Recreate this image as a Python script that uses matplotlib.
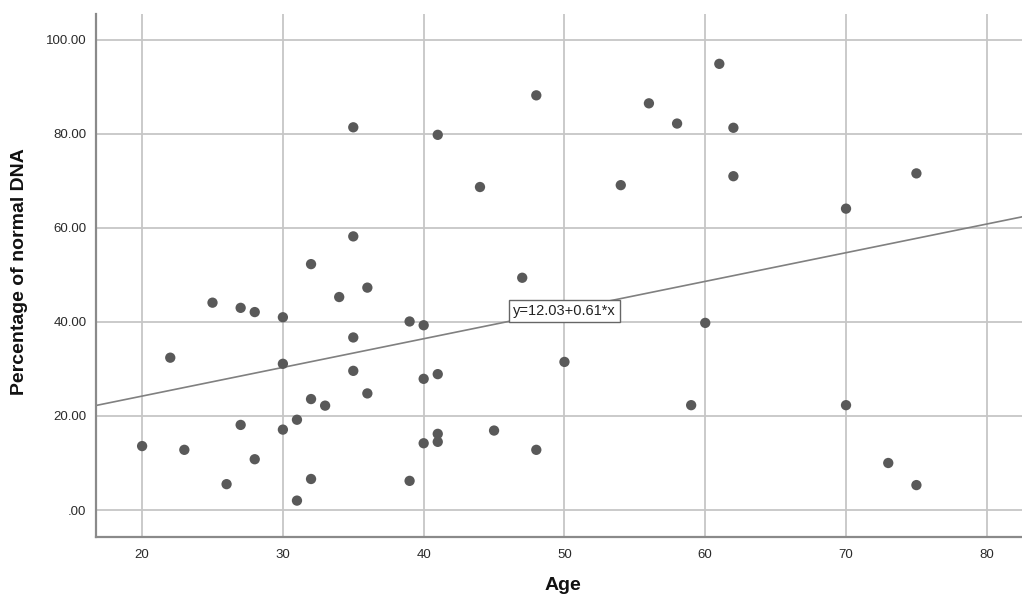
import numpy as np
import matplotlib
matplotlib.use("Agg")
import matplotlib.pyplot as plt

plt.rcParams['font.family'] = ['Liberation Sans', 'DejaVu Sans']

# age / percentage of normal DNA per subject
age = [20, 22, 23, 25, 26, 27, 27, 28, 28, 30, 30, 30, 31, 31, 32, 32, 32, 33,
       34, 35, 35, 35, 35, 36, 36, 39, 39, 40, 40, 40, 41, 41, 41, 41, 44, 45,
       47, 48, 48, 50, 54, 56, 58, 59, 60, 61, 62, 62, 70, 70, 73, 75, 75]
pct_normal = [13.6, 32.4, 12.8, 44.1, 5.5, 43.0, 18.1, 42.1, 10.8, 41.0, 31.1,
              17.1, 19.2, 2.0, 52.3, 23.6, 6.6, 22.2, 45.3, 81.4, 58.2, 36.7,
              29.6, 47.3, 24.8, 40.1, 6.2, 39.3, 27.9, 14.2, 79.8, 28.9, 16.2,
              14.5, 68.7, 16.9, 49.4, 88.2, 12.8, 31.5, 69.1, 86.5, 82.2, 22.3,
              39.8, 94.9, 81.3, 71.0, 64.1, 22.3, 10.0, 71.6, 5.3]

# fit line reported on the chart
intercept = 12.03
slope = 0.61

x_ticks = [20, 30, 40, 50, 60, 70, 80]
y_ticks = [0, 20, 40, 60, 80, 100]
y_ticklabels = [".00", "20.00", "40.00", "60.00", "80.00", "100.00"]

fig = plt.figure(figsize=(10.22, 5.96), dpi=100)
ax = fig.add_axes([0.094, 0.099, 0.906, 0.8775])

xmin, xmax = 16.73, 82.5
ax.set_xlim(xmin, xmax)
ax.set_ylim(-5.74, 105.5)

ax.set_xticks(x_ticks)
ax.set_yticks(y_ticks)
ax.set_yticklabels(y_ticklabels)
ax.grid(True, color="#c6c6c6", linewidth=1.3, zorder=0)
ax.set_axisbelow(True)

for side in ("top", "right"):
    ax.spines[side].set_visible(False)
for side in ("left", "bottom"):
    ax.spines[side].set_color("#8a8a8a")
    ax.spines[side].set_linewidth(1.6)

ax.tick_params(axis="both", length=0, labelsize=9.5, labelcolor="#2a2a2a")
ax.tick_params(axis="y", pad=7)
ax.tick_params(axis="x", pad=9)

xs = np.array([xmin, xmax])
ax.plot(xs, intercept + slope * xs, color="#808080", linewidth=1.2, zorder=2)

ax.scatter(age, pct_normal, s=55, color="#595959", edgecolors="none", zorder=3)

ax.text(50.0, 42.4, f"y={intercept:.2f}+{slope:.2f}*x", ha="center", va="center",
        fontsize=10.5, color="#222222", zorder=4,
        bbox=dict(boxstyle="square,pad=0.28", facecolor="white",
                  edgecolor="#666666", linewidth=1.0))

fig.text(20 / 1022, 1 - 272 / 596, "Percentage of normal DNA", rotation=90,
         ha="center", va="center", fontsize=14, fontweight="bold", color="#111111")
fig.text(563 / 1022, 1 - 586 / 596, "Age", ha="center", va="center",
         fontsize=14, fontweight="bold", color="#111111")

fig.savefig("out.png", dpi=100)
